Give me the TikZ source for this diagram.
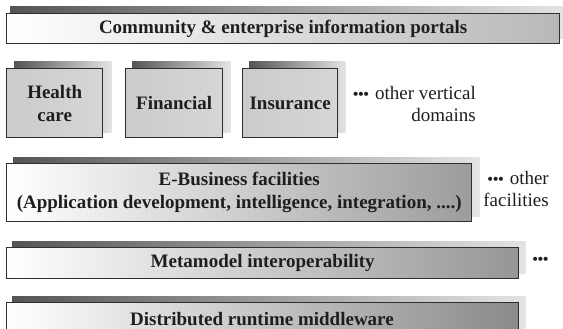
\documentclass[tikz,border=0pt]{standalone}
\usepackage{fontspec}
\setmainfont{Liberation Serif}
\newfontfamily\bulletfont{DejaVu Sans}
\usetikzlibrary{backgrounds}
\definecolor{ink}{HTML}{1E1E1E}
\definecolor{edge}{HTML}{2E2E2E}
\definecolor{shL}{HTML}{555555}
\definecolor{shR}{HTML}{E4E4E4}
\definecolor{vL}{HTML}{CBCBCB}
\definecolor{vM}{HTML}{E8E8E8}
\definecolor{vR}{HTML}{D6D6D6}
\definecolor{portR}{HTML}{B8B8B8}
\definecolor{ebusR}{HTML}{9C9C9C}
\definecolor{metaR}{HTML}{969696}
\definecolor{distR}{HTML}{8A8A8A}
\tikzset{
  layerbox/.style={draw=edge, line width=1.4pt, inner sep=0pt, anchor=north west,
    font=\bfseries\fontsize{19}{23}\selectfont, text=ink, align=center},
  hbar/.style={layerbox, left color=white, right color=#1},
  vbox/.style={layerbox, left color=vL, middle color=vM, right color=vR,
    minimum width=96pt, minimum height=69pt},
  sidetext/.style={font=\fontsize{19}{22}\selectfont, text=ink, inner sep=0pt},
  shadowband/.style={left color=shL, right color=shR}
}
\newcommand{\dotsthree}{{\bulletfont\fontsize{14}{14}\selectfont •\kern-3pt•\kern-3pt•}}
\newcommand{\shadowof}[2]{\shade[shadowband] ([shift={(#2pt,6pt)}]#1.south west) rectangle ([shift={(#2pt,6pt)}]#1.north east);}
\begin{document}
\begin{tikzpicture}[x=1pt,y=-1pt]
\useasboundingbox (0,0) rectangle (563,329);
\clip (0,0) rectangle (563,329);

% layers
\node[hbar=portR, minimum width=553pt, minimum height=30pt] (portals) at (6,13)
  {Community \& enterprise information portals};
\node[vbox] (health) at (6,68) {Health\\care};
\node[vbox, minimum width=97pt] (fin) at (125,68) {Financial};
\node[vbox, minimum width=95pt] (ins) at (242,68) {Insurance};
\node[hbar=ebusR, minimum width=465pt, minimum height=58pt] (ebus) at (6,163)
  {E-Business facilities\\(Application development, intelligence, integration, ....)};
\node[hbar=metaR, minimum width=512pt, minimum height=31pt] (meta) at (6,247)
  {Metamodel interoperability};
\node[hbar=distR, minimum width=512pt, minimum height=34pt] (dist) at (6,302) {};
\node[font=\bfseries\fontsize{19}{23}\selectfont, text=ink] (distlabel) at (262,319) {Distributed runtime middleware};

% side texts
\node[sidetext, anchor=east, align=right] (vert) at (476,104)
  {\dotsthree\ other vertical\\domains};
\node[sidetext, anchor=east, align=right] (fac) at (549,189)
  {\dotsthree\ other\\facilities};
\node[sidetext, anchor=east] (metadots) at (550,261) {\dotsthree};

% shadows and page background
\begin{scope}[on background layer]
\fill[white] (0,0) rectangle (563,329);
\shadowof{portals}{4}
\shadowof{health}{8}
\shadowof{fin}{7}
\shadowof{ins}{7}
\shadowof{ebus}{7}
\shadowof{meta}{6}
\shadowof{dist}{6}
\end{scope}
\end{tikzpicture}
\end{document}
